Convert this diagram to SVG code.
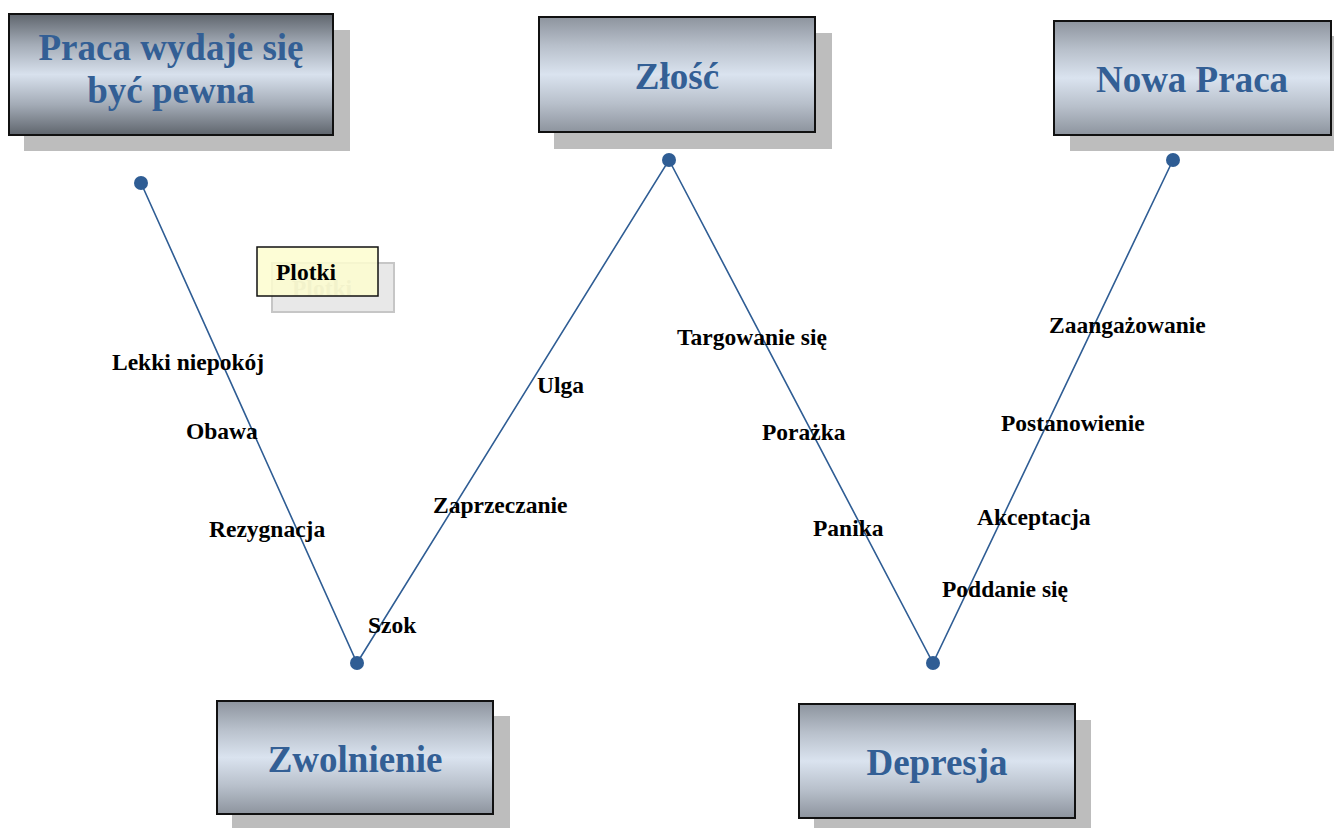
<svg xmlns="http://www.w3.org/2000/svg" width="1334" height="828" viewBox="0 0 1334 828">
<defs>
<linearGradient id="g" x1="0" y1="0" x2="0" y2="1">
<stop offset="0" stop-color="#8d949e"/>
<stop offset="0.25" stop-color="#b8c0cb"/>
<stop offset="0.5" stop-color="#dae3ef"/>
<stop offset="0.75" stop-color="#b8c0cb"/>
<stop offset="1" stop-color="#8d949e"/>
</linearGradient>
<linearGradient id="g1" x1="0" y1="0" x2="0" y2="1">
<stop offset="0" stop-color="#5f656d"/>
<stop offset="0.25" stop-color="#a3abb6"/>
<stop offset="0.5" stop-color="#d8e1ed"/>
<stop offset="0.75" stop-color="#a3abb6"/>
<stop offset="1" stop-color="#5f656d"/>
</linearGradient>
</defs>
<style>
.sh{fill:#bdbdbd}
.bx{fill:url(#g);stroke:#111;stroke-width:2}
.t{font-family:"Liberation Serif",serif;font-weight:bold;font-size:37px;fill:#335f95;text-anchor:middle}
.l{font-family:"Liberation Serif",serif;font-weight:bold;font-size:23.5px;fill:#000}
.c{stroke:#2f5d94;stroke-width:1.6;fill:none}
.d{fill:#2f5d94}
</style>
<rect width="1334" height="828" fill="#fff"/>
<g id="connectors">
<polyline class="c" points="141,183 357,663 669,160 933,663 1173,160"/>
<circle class="d" cx="141" cy="183" r="7"/>
<circle class="d" cx="357" cy="663" r="7"/>
<circle class="d" cx="669" cy="160" r="7"/>
<circle class="d" cx="933" cy="663" r="7"/>
<circle class="d" cx="1173" cy="160" r="7"/>
</g>
<g id="node-praca">
<rect class="sh" x="24" y="30" width="326" height="121"/>
<rect x="9" y="14" width="324" height="121" fill="url(#g1)" stroke="#111" stroke-width="2"/>
<text class="t" x="171" y="60">Praca wydaje się</text>
<text class="t" x="171" y="103">być pewna</text>
</g>
<g id="node-zlosc">
<rect class="sh" x="554" y="33" width="278" height="116"/>
<rect class="bx" x="539" y="17" width="276" height="115"/>
<text class="t" x="677" y="89">Złość</text>
</g>
<g id="node-nowa">
<rect class="sh" x="1070" y="36" width="264" height="115"/>
<rect class="bx" x="1054" y="21" width="277" height="114"/>
<text class="t" x="1192" y="92">Nowa Praca</text>
</g>
<g id="node-zwolnienie">
<rect class="sh" x="232" y="716" width="278" height="112"/>
<rect class="bx" x="217" y="701" width="276" height="113"/>
<text class="t" x="355" y="772">Zwolnienie</text>
</g>
<g id="node-depresja">
<rect class="sh" x="814" y="720" width="277" height="108"/>
<rect class="bx" x="799" y="704" width="276" height="114"/>
<text class="t" x="937" y="775">Depresja</text>
</g>
<g id="node-plotki">
<rect x="272" y="263" width="122" height="49" fill="#e8e8e8" stroke="#c6c6c6" stroke-width="2"/>
<text class="l" x="292" y="296" fill="#b4b4b4" style="fill:#b4b4b4">Plotki</text>
<rect x="257" y="247" width="121" height="49" fill="#fdfdcf" fill-opacity="0.85" stroke="#111" stroke-width="1.5"/>
<text class="l" x="276" y="280">Plotki</text>
</g>
<g id="labels">
<text class="l" x="112" y="370">Lekki niepokój</text>
<text class="l" x="186" y="439">Obawa</text>
<text class="l" x="209" y="537">Rezygnacja</text>
<text class="l" x="368" y="633">Szok</text>
<text class="l" x="433" y="513">Zaprzeczanie</text>
<text class="l" x="537" y="393">Ulga</text>
<text class="l" x="677" y="345">Targowanie się</text>
<text class="l" x="762" y="440">Porażka</text>
<text class="l" x="813" y="536">Panika</text>
<text class="l" x="1049" y="333">Zaangażowanie</text>
<text class="l" x="1001" y="431">Postanowienie</text>
<text class="l" x="977" y="525">Akceptacja</text>
<text class="l" x="942" y="597">Poddanie się</text>
</g>
</svg>
